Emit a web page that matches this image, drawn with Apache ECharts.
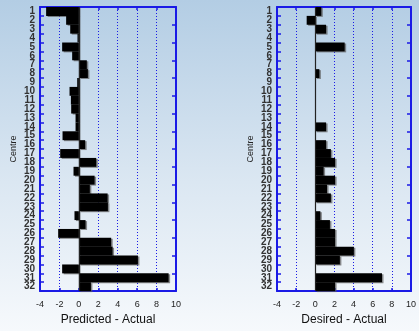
<!DOCTYPE html>
<html><head><meta charset="utf-8">
<script src="https://cdn.jsdelivr.net/npm/echarts@6/dist/echarts.min.js"></script>
<style>html,body{margin:0;padding:0;}#c{width:419px;height:331px;background:linear-gradient(to bottom,#b3cde4 0%,#dbe7f2 55%,#f6f9fc 100%);}</style>
</head><body><div id="c"></div>
<script>
var centres = ['1','2','3','4','5','6','7','8','9','10','11','12','13','14','15','16','17','18','19','20','21','22','23','24','25','26','27','28','29','30','31','32'];
var predictedMinusActual = [-3.37,-1.31,-0.89,-0.14,-1.72,-0.69,0.82,0.93,-0.17,-0.96,-0.82,-0.79,-0.34,-0.34,-1.68,0.65,-1.92,1.79,-0.55,1.62,1.13,2.96,2.99,-0.45,0.69,-2.13,3.33,3.47,6.08,-1.72,9.24,1.24];
var desiredMinusActual = [0.63,-0.9,1.13,0,3.07,0,0,0.43,0,0,0,0,0,1.13,0,1.13,1.63,2.07,0.87,2.07,1.23,1.63,0,0.53,1.53,2.07,2.07,4.03,2.57,0,6.97,2.07];
var xTicks = {min:-4, max:10, interval:2};
var xNames = ['Predicted - Actual','Desired - Actual'];
var yName = 'Centre';

var blue = '#1a1ae6';
var font = 'Liberation Sans, Arial, sans-serif';
var chart = echarts.init(document.getElementById('c'), null, {renderer:'canvas'});
var grids = [
  {left:40, right:243, top:7, bottom:37},
  {left:277, right:5, top:7, bottom:37}
];
var xAxes = [], yAxes = [], series = [];
[predictedMinusActual, desiredMinusActual].forEach(function(vals, i){
  xAxes.push({type:'value', gridIndex:i, min:xTicks.min, max:xTicks.max, interval:xTicks.interval, position:'bottom',
    name:xNames[i], nameLocation:'middle', nameGap:21, nameTextStyle:{fontFamily:font, fontSize:12, color:'#111'},
    axisLine:{show:true, onZero:false, lineStyle:{color:blue, width:2}},
    axisTick:{show:true, inside:true, length:3, lineStyle:{color:blue, width:1.5}},
    axisLabel:{fontFamily:font, fontSize:9, color:'#222', margin:9},
    splitLine:{show:true, lineStyle:{color:blue, type:[1,2], width:1}}});
  xAxes.push({type:'value', gridIndex:i, min:xTicks.min, max:xTicks.max, interval:xTicks.interval, position:'top',
    axisLine:{show:true, onZero:false, lineStyle:{color:blue, width:2}},
    axisTick:{show:true, inside:true, length:3, lineStyle:{color:blue, width:1.5}},
    axisLabel:{show:false}, splitLine:{show:false}});
  yAxes.push({type:'category', gridIndex:i, data:centres, inverse:true, position:'left',
    name:yName, nameLocation:'middle', nameGap:22, nameRotate:90, nameTextStyle:{fontFamily:font, fontSize:9, color:'#222'},
    axisLine:{show:true, onZero:false, lineStyle:{color:blue, width:2}},
    axisTick:{show:true, inside:true, length:4, lineStyle:{color:blue, width:1.5}},
    axisLabel:{fontFamily:font, fontSize:10, fontWeight:'bold', color:'#333', margin:5, interval:0}});
  yAxes.push({type:'category', gridIndex:i, data:centres, inverse:true, position:'right',
    axisLine:{show:true, onZero:false, lineStyle:{color:blue, width:2}},
    axisTick:{show:true, inside:true, length:4, lineStyle:{color:blue, width:1.5}},
    axisLabel:{show:false}});
  series.push({type:'bar', xAxisIndex:2*i, yAxisIndex:2*i, data:vals, barCategoryGap:'0%',
    itemStyle:{color:'#000', shadowColor:'rgba(90,90,90,0.7)', shadowOffsetX:1.5, shadowOffsetY:1, shadowBlur:0},
    markLine:{silent:true, symbol:'none', label:{show:false}, lineStyle:{color:'#222', type:'solid', width:1.2},
      data:[{xAxis:0}]}});
});
chart.setOption({animation:false, grid:grids, xAxis:xAxes, yAxis:yAxes, series:series});
</script></body></html>
